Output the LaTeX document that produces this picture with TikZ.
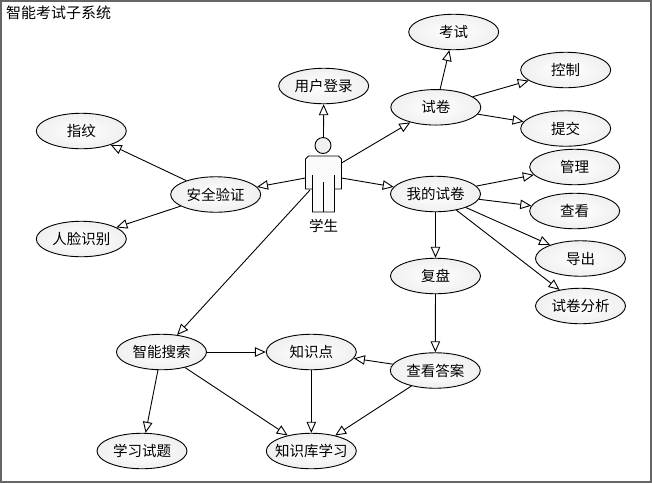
\documentclass[tikz,border=0pt]{standalone}
\usepackage{fontspec}
\setmainfont{Noto Sans CJK SC}
\usetikzlibrary{shapes.geometric,arrows.meta}
\newcommand{\uctext}[1]{\makebox[0pt][c]{#1}}
\tikzset{
  uc/.style={ellipse,draw=black,line width=0.9pt,minimum width=90pt,minimum height=35.5pt,inner sep=0pt,
    inner color=white,outer color=black!6,font=\fontsize{14.5}{16}\selectfont},
  ln/.style={draw=black,line width=0.9pt},
  arr/.style={ln,-{Triangle[open,fill=white,length=11pt,width=9.5pt,line width=0.9pt]}},
  body/.style={draw=black,line width=0.9pt,fill=black!2},
}
\begin{document}
\begin{tikzpicture}[x=1pt,y=-1pt]
\useasboundingbox (0,0) rectangle (652,483);
\draw[draw=black!60,line width=2pt,fill=white] (1,1) rectangle (651,482);
\node[anchor=west,font=\fontsize{15}{17}\selectfont,inner sep=0pt] (title) at (6,13) {智能考试子系统};

\node[uc] (login) at (323.7,86) {\uctext{用户登录}};
\node[uc] (exam) at (453.7,32) {\uctext{考试}};
\node[uc] (ctrl) at (565.7,70) {\uctext{控制}};
\node[uc] (paper) at (435.8,107.3) {\uctext{试卷}};
\node[uc] (submit) at (565.7,128.5) {\uctext{提交}};
\node[uc] (manage) at (574.7,167) {\uctext{管理}};
\node[uc] (view) at (574.7,211) {\uctext{查看}};
\node[uc] (mine) at (435.5,194) {\uctext{我的试卷}};
\node[uc] (export) at (580.5,258.5) {\uctext{导出}};
\node[uc] (analyse) at (580.5,306) {\uctext{试卷分析}};
\node[uc] (review) at (435.5,276) {\uctext{复盘}};
\node[uc] (answer) at (435.3,370.5) {\uctext{查看答案}};
\node[uc] (secure) at (215.7,194.5) {\uctext{安全验证}};
\node[uc] (finger) at (81.3,131) {\uctext{指纹}};
\node[uc] (face) at (81.3,239) {\uctext{人脸识别}};
\node[uc] (search) at (161.5,352) {\uctext{智能搜索}};
\node[uc] (point) at (311.3,352) {\uctext{知识点}};
\node[uc] (quiz) at (142,451) {\uctext{学习试题}};
\node[uc] (lib) at (311.3,451) {\uctext{知识库学习}};

% actor
\node[circle,body,minimum size=16pt,inner sep=0pt,fill=black!6] (head) at (323,145.5) {};
\path[body] (308.5,156) -- (338.5,156) -- (341.5,159) -- (341.5,189) -- (334.5,189) -- (334.5,212) -- (312.5,212) -- (312.5,189) -- (305.5,189) -- (305.5,159) -- cycle;
\draw[ln] (312.5,175) -- (312.5,189) (334.5,175) -- (334.5,189) (323.5,182) -- (323.5,212);
\node[font=\fontsize{14.5}{16}\selectfont,inner sep=0pt] (student) at (323.5,226) {学生};
\coordinate (aUp) at (323.5,137);
\coordinate (aRT) at (341.5,163);
\coordinate (aRB) at (341.5,178);
\coordinate (aLT) at (305.5,178);
\coordinate (aLB) at (310,190);

\draw[arr] (aUp) -- (login);
\draw[arr] (aRT) -- (paper);
\draw[arr] (aRB) -- (mine);
\draw[arr] (aLT) -- (secure);
\draw[arr] (aLB) -- (search);
\draw[arr] (paper) -- (exam);
\draw[arr] (paper) -- (ctrl);
\draw[arr] (paper) -- (submit);
\draw[arr] (mine) -- (manage);
\draw[arr] (mine) -- (view);
\draw[arr] (mine) -- (export);
\draw[arr] (mine) -- (analyse);
\draw[arr] (mine) -- (review);
\draw[arr] (review) -- (answer);
\draw[arr] (secure) -- (finger);
\draw[arr] (secure) -- (face);
\draw[arr] (search) -- (point);
\draw[arr] (search) -- (quiz);
\draw[arr] (search) -- (lib);
\draw[arr] (point) -- (lib);
\draw[arr] (answer) -- (point);
\draw[arr] (answer) -- (lib);
\end{tikzpicture}
\end{document}
